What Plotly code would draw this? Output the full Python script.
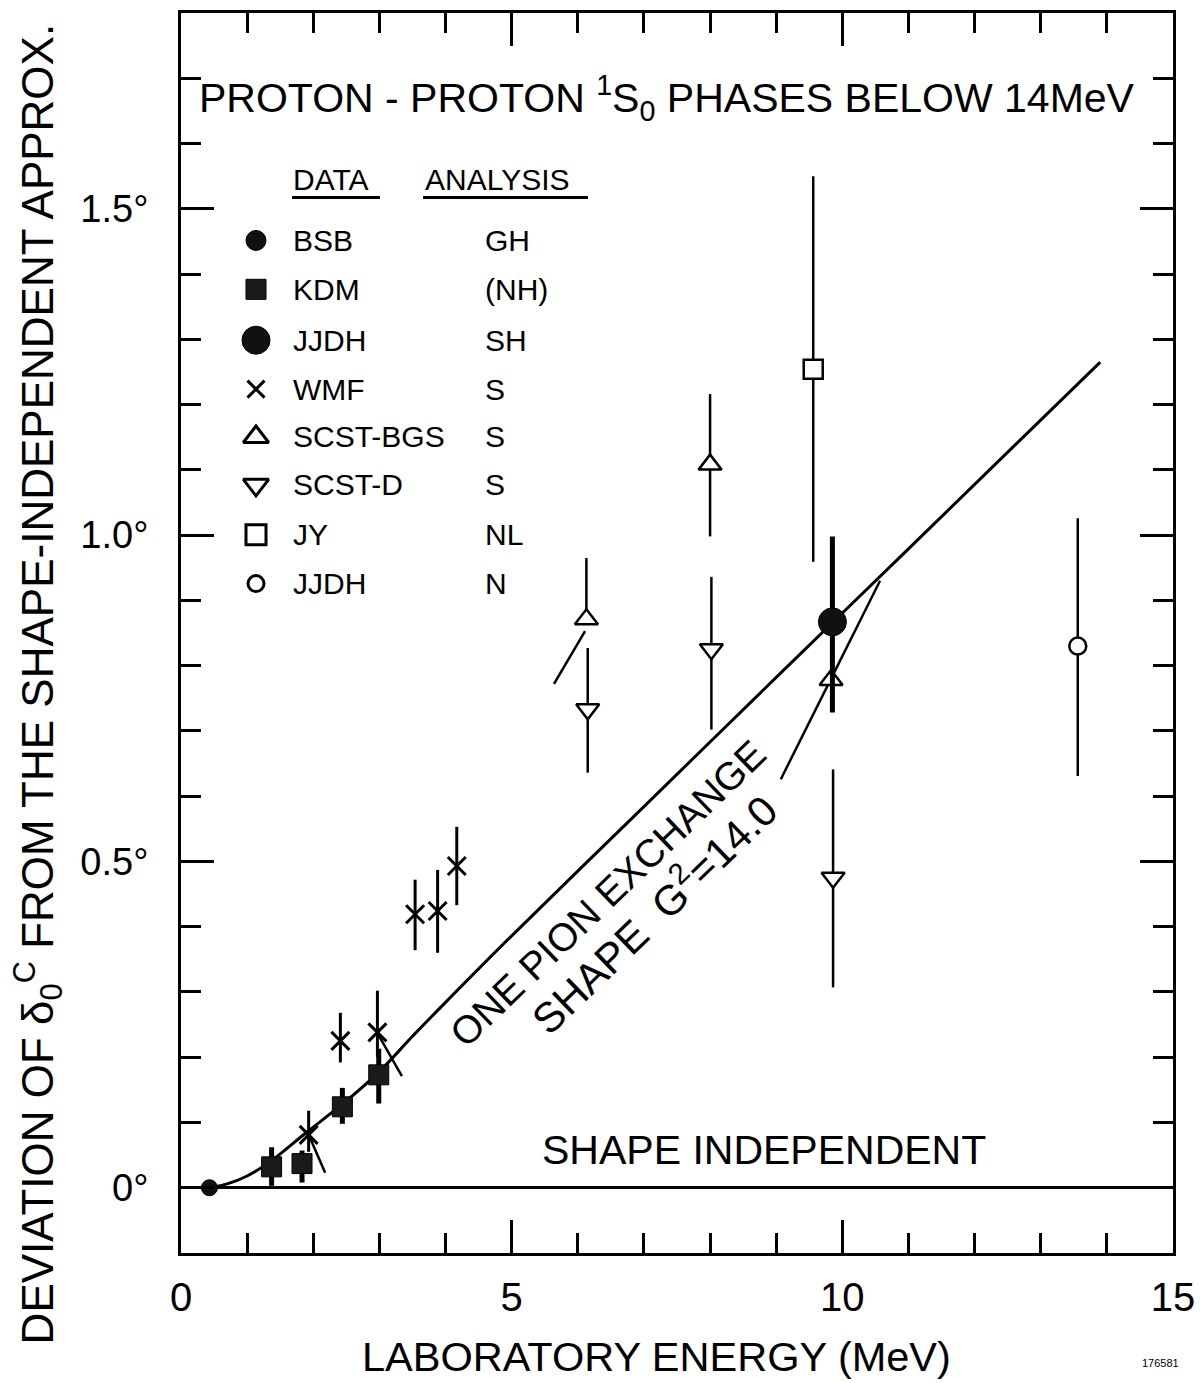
import plotly.graph_objects as go

# ---------------- data ----------------
# BSB (analysis GH) - small filled circle
bsb_x = [0.43]
bsb_y = [0.0]

# KDM (NH) - filled squares
kdm_x = [1.37, 1.83, 2.44, 2.99]
kdm_y = [0.032, 0.037, 0.124, 0.173]
kdm_hi = [0.062, 0.057, 0.153, 0.213]
kdm_lo = [0.003, 0.008, 0.098, 0.129]

# WMF (S) - crosses
wmf_x = [1.93, 2.41, 2.97, 3.54, 3.88, 4.17]
wmf_y = [0.081, 0.225, 0.238, 0.419, 0.424, 0.493]
wmf_hi = [0.118, 0.268, 0.302, 0.472, 0.487, 0.553]
wmf_lo = [0.055, 0.192, 0.200, 0.364, 0.360, 0.433]

# SCST-BGS (S) - open up-triangles
bgs_x = [6.13, 8.00, 9.83]
bgs_y = [0.871, 1.108, 0.778]
bgs_hi = [0.965, 1.216, 0.778]
bgs_lo = [0.871, 0.998, 0.778]

# SCST-D (S) - open down-triangles
scd_x = [6.15, 8.02, 9.86]
scd_y = [0.733, 0.825, 0.475]
scd_hi = [0.827, 0.936, 0.641]
scd_lo = [0.636, 0.702, 0.307]

# JY (NL) - open square
jy_x = [9.56]
jy_y = [1.254]
jy_hi = [1.550]
jy_lo = [0.959]

# JJDH (SH) - large filled circle
jsh_x = [9.85]
jsh_y = [0.867]
jsh_hi = [0.998]
jsh_lo = [0.728]

# JJDH (N) - small open circle
jn_x = [13.56]
jn_y = [0.830]
jn_hi = [1.026]
jn_lo = [0.631]

# slanted segments attached to some points
seg_x0 = [1.93, 2.97, 6.11, 10.57]
seg_y0 = [0.081, 0.237, 0.853, 0.930]
seg_x1 = [2.18, 3.34, 5.64, 9.07]
seg_y1 = [0.023, 0.171, 0.772, 0.626]

# one pion exchange shape curve, G^2 = 14.0
curve_x = [0.43, 0.70, 1.00, 1.35, 1.90, 2.44, 3.00, 3.50, 4.00, 5.00, 7.00, 9.00, 11.00, 13.90]
curve_y = [0.000, 0.006, 0.018, 0.040, 0.085, 0.128, 0.178, 0.232, 0.284, 0.386, 0.584, 0.782, 0.979, 1.265]

# axis tick labels
x_tickvals = [0, 5, 10, 15]
x_ticktext = ["0", "5", "10", "15"]
y_tickvals = [0, 0.5, 1.0, 1.5]
y_ticktext = ["0°", "0.5°", "1.0°", "1.5°"]

# legend table
legend_data = ["BSB", "KDM", "JJDH", "WMF", "SCST-BGS", "SCST-D", "JY", "JJDH"]
legend_analysis = ["GH", "(NH)", "SH", "S", "S", "S", "NL", "N"]

# ---------------- figure ----------------
FONT = "Liberation Sans"
BLACK = "black"
# the page body has an 8 px margin: plot area should land at x 181..1173, y 10..1253
PAGE_OFF = 8
PL, PR, PT, PB = 181, 1173, 10, 1253
W, H = 1204 - PAGE_OFF, 1383 - PAGE_OFF
fig = go.Figure()


def errs(y, hi, lo):
    return [h - v for v, h in zip(y, hi)], [v - l for v, l in zip(y, lo)]


def px2paper(px, py):
    return (px - PL) / (PR - PL), 1 - (py - PT) / (PB - PT)


# curve
fig.add_trace(go.Scatter(x=curve_x, y=curve_y, mode="lines",
                         line=dict(color=BLACK, width=3, shape="spline", smoothing=0.8),
                         hoverinfo="skip"))

# slanted segments
sx, sy = [], []
for a, b, c, d in zip(seg_x0, seg_y0, seg_x1, seg_y1):
    sx += [a, c, None]
    sy += [b, d, None]
fig.add_trace(go.Scatter(x=sx, y=sy, mode="lines", line=dict(color=BLACK, width=2.5),
                         hoverinfo="skip"))


def add_points(x, y, hi, lo, symbol, size, fill, lw, thick):
    p, m = errs(y, hi, lo)
    fig.add_trace(go.Scatter(
        x=x, y=y, mode="markers",
        marker=dict(symbol=symbol, size=size, color=fill,
                    line=dict(color=BLACK, width=lw)),
        error_y=dict(type="data", symmetric=False, array=p, arrayminus=m,
                     color=BLACK, thickness=thick, width=0)))


add_points(kdm_x, kdm_y, kdm_hi, kdm_lo, "square", 20, "#1a1a1a", 1, 5)
add_points(wmf_x, wmf_y, wmf_hi, wmf_lo, "x-thin", 18, BLACK, 3, 3)
add_points(bgs_x, bgs_y, bgs_hi, bgs_lo, "triangle-up", 20, "white", 2.5, 2.5)
add_points(scd_x, scd_y, scd_hi, scd_lo, "triangle-down", 20, "white", 2.5, 2.5)
add_points(jy_x, jy_y, jy_hi, jy_lo, "square", 19, "white", 2.5, 2.5)
add_points(jsh_x, jsh_y, jsh_hi, jsh_lo, "circle", 28, "#111", 1, 5)
add_points(jn_x, jn_y, jn_hi, jn_lo, "circle", 17, "white", 2.5, 2.5)
fig.add_trace(go.Scatter(x=bsb_x, y=bsb_y, mode="markers",
                         marker=dict(symbol="circle", size=16, color="#111",
                                     line=dict(color=BLACK, width=1))))

# ---------- legend table on an overlay axis in pixel units ----------
row_y = [238, 287, 338, 387, 435, 483, 533, 582]
sym_x = 256
leg_syms = ["circle", "square", "circle", "x-thin", "triangle-up", "triangle-down", "square", "circle"]
leg_size = [20, 20, 28, 17, 22, 22, 20, 16]
leg_fill = ["#111", "#1a1a1a", "#111", BLACK, "white", "white", "white", "white"]
leg_lw = [1, 1, 1, 3, 3, 3, 3, 3]
for s, sz, fc, lw, yy in zip(leg_syms, leg_size, leg_fill, leg_lw, row_y):
    fig.add_trace(go.Scatter(x=[sym_x], y=[yy], xaxis="x2", yaxis="y2", mode="markers",
                             marker=dict(symbol=s, size=sz, color=fc,
                                         line=dict(color=BLACK, width=lw)),
                             hoverinfo="skip"))

annotations = []
for name, an, yy in zip(legend_data, legend_analysis, row_y):
    annotations.append(dict(x=291, y=yy, xref="x2", yref="y2", text=name, showarrow=False,
                            xanchor="left", yanchor="middle", font=dict(size=30)))
    annotations.append(dict(x=483, y=yy, xref="x2", yref="y2", text=an, showarrow=False,
                            xanchor="left", yanchor="middle", font=dict(size=30)))
annotations.append(dict(x=291, y=177, xref="x2", yref="y2", text="DATA", showarrow=False,
                        xanchor="left", yanchor="middle", font=dict(size=30)))
annotations.append(dict(x=423, y=177, xref="x2", yref="y2", text="ANALYSIS", showarrow=False,
                        xanchor="left", yanchor="middle", font=dict(size=30)))

# title inside frame
annotations.append(dict(x=667, y=95, xref="x2", yref="y2",
                        text="PROTON - PROTON <sup>1</sup>S<sub>0</sub> PHASES BELOW 14MeV",
                        showarrow=False, xanchor="center", yanchor="middle", font=dict(size=41)))
# curve labels
annotations.append(dict(x=608, y=893, xref="x2", yref="y2", text="ONE PION EXCHANGE",
                        textangle=-44, showarrow=False, font=dict(size=39)))
annotations.append(dict(x=652, y=912, xref="x2", yref="y2", text="SHAPE  G<sup>2</sup>=14.0",
                        textangle=-44, showarrow=False, font=dict(size=42)))
annotations.append(dict(x=764, y=1150, xref="x2", yref="y2", text="SHAPE INDEPENDENT",
                        showarrow=False, font=dict(size=41)))

# texts outside the frame (paper coordinates)
xt, yt = px2paper(656, 1357)
annotations.append(dict(x=xt, y=yt, xref="paper", yref="paper", text="LABORATORY ENERGY (MeV)",
                        xanchor="center", yanchor="middle",
                        showarrow=False, font=dict(size=41.5)))
xt, yt = px2paper(38, 683)
annotations.append(dict(x=xt, y=yt, xref="paper", yref="paper",
                        text="DEVIATION OF δ<sub>0</sub><sup>C</sup> FROM THE SHAPE-INDEPENDENT APPROX.",
                        xanchor="center", yanchor="middle",
                        textangle=-90, showarrow=False, font=dict(size=44)))
xt, yt = px2paper(1160, 1363)
annotations.append(dict(x=xt, y=yt, xref="paper", yref="paper", text="176581",
                        xanchor="center", yanchor="middle",
                        showarrow=False, font=dict(size=11)))

shapes = [
    dict(type="line", xref="x2", yref="y2", x0=292, x1=380, y0=195, y1=195,
         line=dict(color=BLACK, width=3)),
    dict(type="line", xref="x2", yref="y2", x0=423, x1=588, y0=195, y1=195,
         line=dict(color=BLACK, width=3)),
]

fig.update_layout(
    width=W, height=H,
    margin=dict(l=PL - PAGE_OFF, r=1204 - PR, t=PT - PAGE_OFF, b=1383 - PB, pad=0),
    paper_bgcolor="white", plot_bgcolor="white",
    showlegend=False,
    font=dict(family=FONT, color=BLACK),
    annotations=annotations, shapes=shapes,
    xaxis=dict(range=[0, 15], showgrid=False, zeroline=False,
               showline=True, linecolor=BLACK, linewidth=3, mirror="ticks",
               ticks="inside", ticklen=33, tickwidth=2.5, tickcolor=BLACK,
               tickmode="array", tickvals=x_tickvals, ticktext=x_ticktext,
               tickfont=dict(size=40), ticklabelstandoff=7,
               minor=dict(ticks="inside", ticklen=20, tickwidth=2.5, tickcolor=BLACK,
                          dtick=1, tick0=0, showgrid=False)),
    yaxis=dict(range=[-0.1, 1.8], showgrid=False,
               zeroline=True, zerolinecolor=BLACK, zerolinewidth=2.5,
               showline=True, linecolor=BLACK, linewidth=3, mirror="ticks",
               ticks="inside", ticklen=33, tickwidth=2.5, tickcolor=BLACK,
               tickmode="array", tickvals=y_tickvals, ticktext=y_ticktext,
               tickfont=dict(size=38), ticklabelstandoff=22,
               minor=dict(ticks="inside", ticklen=20, tickwidth=2.5, tickcolor=BLACK,
                          dtick=0.1, tick0=0, showgrid=False)),
    xaxis2=dict(range=[PL, PR], overlaying="x", visible=False, fixedrange=True),
    yaxis2=dict(range=[PB, PT], overlaying="y", visible=False, fixedrange=True),
)

fig.write_html("out.html")
